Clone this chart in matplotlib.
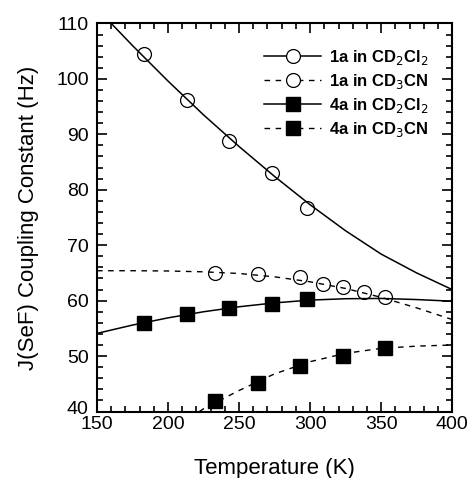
import matplotlib
matplotlib.use("Agg")
import matplotlib.pyplot as plt
import matplotlib.transforms as mtransforms
from matplotlib.lines import Line2D
from matplotlib.ticker import MultipleLocator

plt.rcParams['font.family'] = ['Liberation Sans', 'DejaVu Sans']

# measured points (T in K, J in Hz)
t_1a_cd2cl2 = [183, 213, 243, 273, 298]
j_1a_cd2cl2 = [104.4, 96.2, 88.8, 83.0, 76.8]

t_1a_cd3cn = [233, 263, 293, 309, 323, 338, 353]
j_1a_cd3cn = [64.9, 64.8, 64.2, 63.0, 62.4, 61.5, 60.6]

t_4a_cd2cl2 = [183, 213, 243, 273, 298]
j_4a_cd2cl2 = [55.9, 57.6, 58.7, 59.4, 60.3]

t_4a_cd3cn = [233, 263, 293, 323, 353]
j_4a_cd3cn = [41.9, 45.1, 48.2, 50.1, 51.4]

# fitted curves
fit_t_1a_cd2cl2 = [160, 175, 200, 225, 250, 275, 300, 325, 350, 375, 400]
fit_j_1a_cd2cl2 = [110, 106.0, 99.6, 93.5, 87.8, 82.4, 77.3, 72.6, 68.4, 65.0, 62.0]

fit_t_1a_cd3cn = [150, 175, 200, 225, 250, 275, 300, 325, 350, 375, 400]
fit_j_1a_cd3cn = [65.4, 65.4, 65.35, 65.2, 64.9, 64.3, 63.4, 62.2, 60.6, 58.7, 56.6]

fit_t_4a_cd2cl2 = [150, 175, 200, 225, 250, 275, 300, 325, 350, 375, 400]
fit_j_4a_cd2cl2 = [54.1, 55.6, 56.9, 58.0, 58.9, 59.6, 60.1, 60.35, 60.4, 60.2, 59.9]

fit_t_4a_cd3cn = [222, 225, 250, 275, 300, 325, 350, 375, 400]
fit_j_4a_cd3cn = [40.0, 40.5, 43.8, 46.8, 49.0, 50.5, 51.4, 51.8, 52.0]

labels = [r"1a in CD$_2$Cl$_2$", r"1a in CD$_3$CN",
          r"4a in CD$_2$Cl$_2$", r"4a in CD$_3$CN"]

fig = plt.figure(figsize=(4.71, 4.78), dpi=100)
ax = fig.add_axes([0.206, 0.139, 0.754, 0.812])

dash = (0, (4, 4))
ax.plot(fit_t_1a_cd2cl2, fit_j_1a_cd2cl2, color="black", lw=1.1)
ax.plot(fit_t_1a_cd3cn, fit_j_1a_cd3cn, color="black", lw=1.0, linestyle=dash)
ax.plot(fit_t_4a_cd2cl2, fit_j_4a_cd2cl2, color="black", lw=1.1)
ax.plot(fit_t_4a_cd3cn, fit_j_4a_cd3cn, color="black", lw=1.0, linestyle=dash)

ax.plot(t_1a_cd2cl2, j_1a_cd2cl2, "o", ms=10, mfc="none", mec="black", mew=0.9)
ax.plot(t_1a_cd3cn, j_1a_cd3cn, "o", ms=10, mfc="none", mec="black", mew=0.9)
ax.plot(t_4a_cd2cl2, j_4a_cd2cl2, "s", ms=10, mfc="black", mec="black")
ax.plot(t_4a_cd3cn, j_4a_cd3cn, "s", ms=10, mfc="black", mec="black")

ax.set_xlim(150, 400)
ax.set_ylim(40, 110)
ax.xaxis.set_major_locator(MultipleLocator(50))
ax.xaxis.set_minor_locator(MultipleLocator(10))
ax.yaxis.set_major_locator(MultipleLocator(10))
ax.yaxis.set_minor_locator(MultipleLocator(2))
ax.tick_params(which="both", direction="in", top=True, right=True, width=1.2,
               labelsize=14, colors="black")
ax.tick_params(which="major", length=7)
ax.tick_params(axis="x", which="major", pad=3)
ax.tick_params(axis="y", which="major", pad=6)
ax.tick_params(which="minor", length=4)
for s in ax.spines.values():
    s.set_linewidth(1.5)

# lift the "40" a little so it clears the "150"
fig.canvas.draw()
for tick in ax.yaxis.get_major_ticks():
    if abs(tick.get_loc() - 40) < 1e-6:
        tick.label1.set_transform(tick.label1.get_transform() +
                                  mtransforms.ScaledTranslation(0, 3 / 72, fig.dpi_scale_trans))

ax.set_xlabel("Temperature (K)", fontsize=16, labelpad=18)
ax.set_ylabel("J(SeF) Coupling Constant (Hz)", fontsize=16, labelpad=12)

handles = [
    Line2D([], [], color="black", lw=1.1, marker="o", ms=10, mfc="white", mec="black", mew=0.9),
    Line2D([], [], color="black", lw=1.0, linestyle=dash, marker="o", ms=10, mfc="white", mec="black", mew=0.9),
    Line2D([], [], color="black", lw=1.1, marker="s", ms=10, mfc="black", mec="black"),
    Line2D([], [], color="black", lw=1.0, linestyle=dash, marker="s", ms=10, mfc="black", mec="black"),
]
leg = ax.legend(handles, labels, loc="upper right", frameon=False,
                handlelength=3.4, handletextpad=0.45, labelspacing=0.3,
                bbox_to_anchor=(0.975, 0.975), prop={"size": 12, "weight": "bold"})

fig.savefig("out.png", dpi=100)
